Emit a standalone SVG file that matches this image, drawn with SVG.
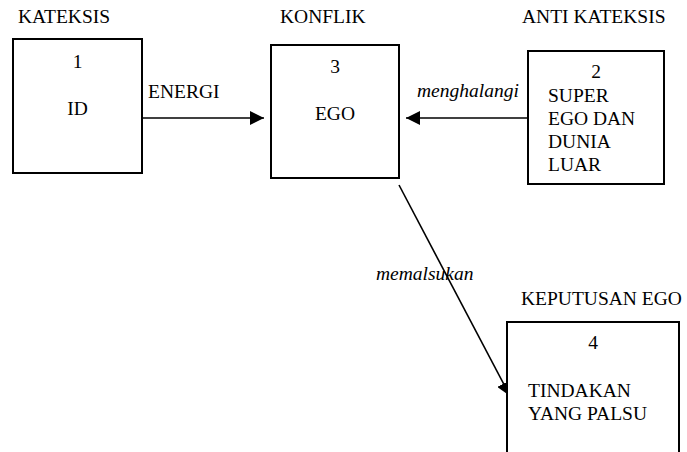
<svg xmlns="http://www.w3.org/2000/svg" width="687" height="452" viewBox="0 0 687 452">
<style>
text{font-family:"Liberation Serif","Times New Roman",serif;font-size:19.5px;fill:#000}
.it{font-style:italic}
.box{fill:#fff;stroke:#000;stroke-width:2}
.ln{stroke:#000;stroke-width:1.6;fill:none}
</style>
<defs>
<marker id="ah" markerUnits="userSpaceOnUse" markerWidth="14" markerHeight="14" refX="14" refY="7" orient="auto" viewBox="0 0 14 14">
<path d="M0,0 L14,7 L0,14 z" fill="#000"/>
</marker>
</defs>
<g id="labels">
<text x="18" y="23">KATEKSIS</text>
<text x="280" y="23">KONFLIK</text>
<text x="522" y="23">ANTI KATEKSIS</text>
<text x="521" y="305">KEPUTUSAN EGO</text>
</g>
<g id="connectors">
<line class="ln" x1="143" y1="118" x2="264" y2="118" marker-end="url(#ah)"/>
<line class="ln" x1="528" y1="118" x2="406" y2="118" marker-end="url(#ah)"/>
<line class="ln" x1="399" y1="185" x2="510" y2="396" marker-end="url(#ah)"/>
<text x="148" y="98">ENERGI</text>
<text class="it" x="417" y="97">menghalangi</text>
<text class="it" x="376" y="280">memalsukan</text>
</g>
<g id="node1">
<rect class="box" x="13" y="39" width="129" height="134"/>
<text x="77.5" y="68" text-anchor="middle">1</text>
<text x="77.5" y="115" text-anchor="middle">ID</text>
</g>
<g id="node3">
<rect class="box" x="271" y="45" width="128" height="133"/>
<text x="335" y="73" text-anchor="middle">3</text>
<text x="335" y="120" text-anchor="middle">EGO</text>
</g>
<g id="node2">
<rect class="box" x="528" y="51" width="136" height="133"/>
<text x="596" y="78" text-anchor="middle">2</text>
<text x="548" y="102">SUPER</text>
<text x="548" y="125">EGO DAN</text>
<text x="548" y="148">DUNIA</text>
<text x="548" y="171">LUAR</text>
</g>
<g id="node4">
<rect class="box" x="507" y="322" width="172" height="140"/>
<text x="593" y="349" text-anchor="middle">4</text>
<text x="528" y="397">TINDAKAN</text>
<text x="528" y="420">YANG PALSU</text>
</g>
</svg>
